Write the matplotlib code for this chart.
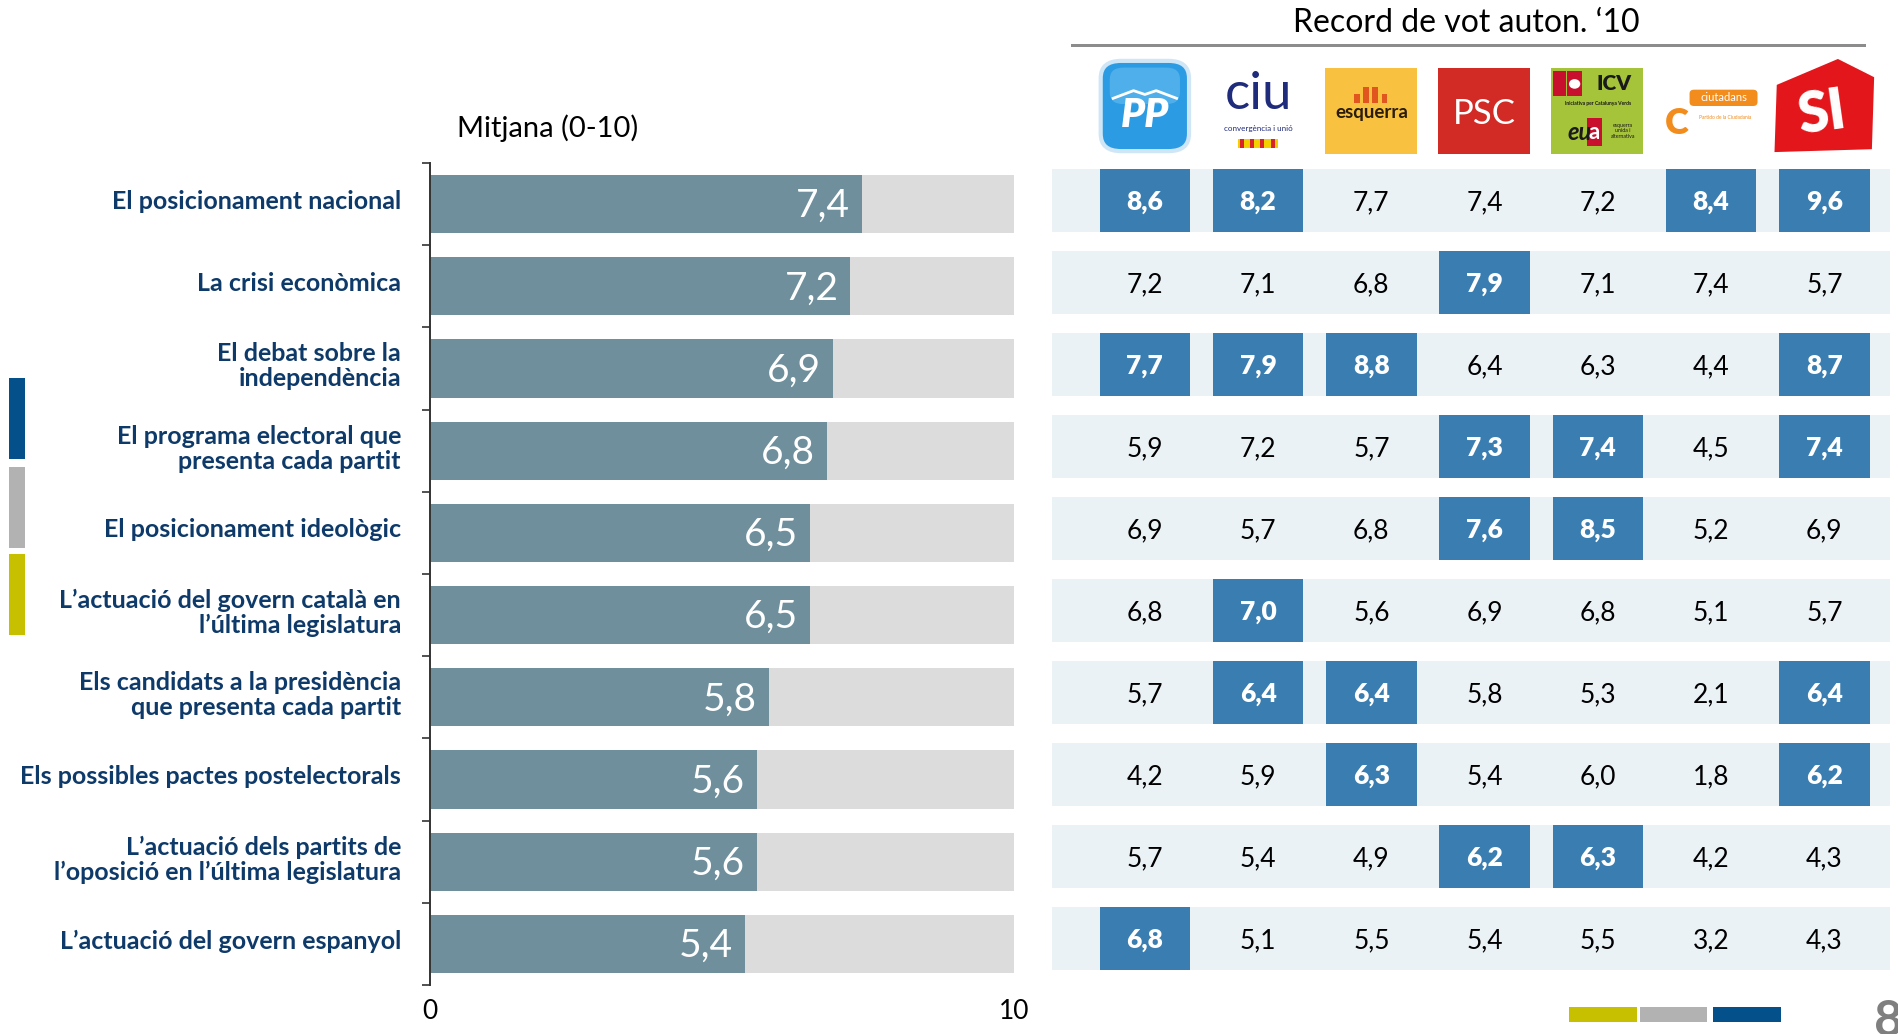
import matplotlib
matplotlib.use('Agg')
import matplotlib.pyplot as plt
from matplotlib.patches import Rectangle, FancyBboxPatch, Polygon, Circle
from matplotlib.lines import Line2D
from matplotlib.transforms import ScaledTranslation
import numpy as np

plt.rcParams['font.family'] = ['Lato', 'DejaVu Sans']

# ---------------- data ----------------
categories = [
    "El posicionament nacional",
    "La crisi econòmica",
    "El debat sobre la\nindependència",
    "El programa electoral que\npresenta cada partit",
    "El posicionament ideològic",
    "L’actuació del govern català en\nl’última legislatura",
    "Els candidats a la presidència\nque presenta cada partit",
    "Els possibles pactes postelectorals",
    "L’actuació dels partits de\nl’oposició en l’última legislatura",
    "L’actuació del govern espanyol",
]
mean_values = [7.4, 7.2, 6.9, 6.8, 6.5, 6.5, 5.8, 5.6, 5.6, 5.4]
scale_max = 10
x_ticks = [0, 10]

parties = ["PP", "CiU", "ERC", "PSC", "ICV-EUiA", "C's", "SI"]
party_values = [
    [8.6, 8.2, 7.7, 7.4, 7.2, 8.4, 9.6],
    [7.2, 7.1, 6.8, 7.9, 7.1, 7.4, 5.7],
    [7.7, 7.9, 8.8, 6.4, 6.3, 4.4, 8.7],
    [5.9, 7.2, 5.7, 7.3, 7.4, 4.5, 7.4],
    [6.9, 5.7, 6.8, 7.6, 8.5, 5.2, 6.9],
    [6.8, 7.0, 5.6, 6.9, 6.8, 5.1, 5.7],
    [5.7, 6.4, 6.4, 5.8, 5.3, 2.1, 6.4],
    [4.2, 5.9, 6.3, 5.4, 6.0, 1.8, 6.2],
    [5.7, 5.4, 4.9, 6.2, 6.3, 4.2, 4.3],
    [6.8, 5.1, 5.5, 5.4, 5.5, 3.2, 4.3],
]
highlight = [
    [1, 1, 0, 0, 0, 1, 1],
    [0, 0, 0, 1, 0, 0, 0],
    [1, 1, 1, 0, 0, 0, 1],
    [0, 0, 0, 1, 1, 0, 1],
    [0, 0, 0, 1, 1, 0, 0],
    [0, 1, 0, 0, 0, 0, 0],
    [0, 1, 1, 0, 0, 0, 1],
    [0, 0, 1, 0, 0, 0, 1],
    [0, 0, 0, 1, 1, 0, 0],
    [1, 0, 0, 0, 0, 0, 0],
]

def fmt(v):
    return f"{v:.1f}".replace('.', ',')

# ---------------- style ----------------
NAVY = '#0E3A6A'
BAR = '#6E8F9B'
BG_BAR = '#DCDCDC'
CELL = '#3A7DB0'
ROW_BG = '#EBF2F6'

W, H = 1898, 1034
fig = plt.figure(figsize=(W / 100, H / 100), dpi=100)
PT = 0.72  # points per pixel


def px_axes(x0, y0, x1, y1):
    return fig.add_axes([x0 / W, 1 - y1 / H, (x1 - x0) / W, (y1 - y0) / H])


n = len(categories)
y = np.arange(n)

# ---------------- left bar chart ----------------
ax = px_axes(430, 163, 1014, 985)
ax.barh(y, [scale_max] * n, height=0.71, color=BG_BAR, zorder=1)
ax.barh(y, mean_values, height=0.71, color=BAR, zorder=2)
ax.set_xlim(0, scale_max)
ax.set_ylim(n - 0.5, -0.5)
for s in ['top', 'right', 'bottom']:
    ax.spines[s].set_visible(False)
ax.spines['left'].set_color('#333333')
ax.spines['left'].set_linewidth(1.4)
ax.spines['left'].set_zorder(5)
ax.set_yticks(y)
ax.set_yticklabels(categories, fontsize=18, fontweight='bold', color=NAVY,
                   linespacing=1.1)
ax.tick_params(axis='y', which='major', length=0, pad=29 * PT)
shift_up = ScaledTranslation(0, 5 / 100, fig.dpi_scale_trans)
for lab in ax.get_yticklabels():
    lab.set_transform(lab.get_transform() + shift_up)
ax.set_yticks(np.arange(n + 1) - 0.5, minor=True)
ax.tick_params(axis='y', which='minor', length=8 * PT, width=1.2, color='#333333')
ax.set_xticks(x_ticks)
ax.set_xticklabels([str(t) for t in x_ticks], fontsize=19)
ax.tick_params(axis='x', length=0, pad=10)

for i, v in enumerate(mean_values):
    ax.annotate(fmt(v), xy=(v, i), xytext=(-12 * PT, -13 * PT),
                textcoords='offset points', ha='right', va='baseline',
                color='white', fontsize=28, zorder=4)

fig.text(457 / W, 1 - 137 / H, "Mitjana (0-10)", fontsize=21, va='baseline',
         ha='left', color='black')

# ---------------- right table ----------------
XL, XR = -0.82, 6.58
tx = px_axes(1052, 159.5, 1890, 979.5)
tx.set_xlim(XL, XR)
tx.set_ylim(n - 0.5, -0.5)
tx.axis('off')
row_h = 0.768
tx.barh(y, XR - XL, left=XL, height=row_h, color=ROW_BG, zorder=1)
for i in range(n):
    for j in range(len(parties)):
        v = party_values[i][j]
        hl = highlight[i][j]
        if hl:
            tx.bar(j, row_h, bottom=i - row_h / 2, width=0.80, color=CELL, zorder=2)
        tx.annotate(fmt(v), xy=(j, i), xytext=(0, -9.5 * PT),
                    textcoords='offset points', ha='center', va='baseline',
                    fontsize=19, color='white' if hl else 'black',
                    fontweight='heavy' if hl else 'normal', zorder=3)

# title and rule
fig.text(1466 / W, 1 - 32 / H, "Record de vot auton. ‘10", fontsize=23,
         ha='center', va='baseline')
fig.add_artist(Line2D([1072 / W, 1864 / W], [1 - 45 / H, 1 - 45 / H],
                      transform=fig.transFigure, color='#8C8C8C', lw=3 * PT))

# ---------------- logos (decoration) ----------------
lx = px_axes(1052, 58, 1890, 154)
lx.set_xlim(XL, XR)
lx.set_ylim(0, 1)
lx.axis('off')

# PP
c = 0
lx.add_patch(FancyBboxPatch((c - 0.37, 0.05), 0.74, 0.90,
                            boxstyle='round,pad=0.02,rounding_size=0.18',
                            facecolor='#2B9BE3', edgecolor='#CFE6F6', lw=3))
lx.add_patch(FancyBboxPatch((c - 0.31, 0.52), 0.62, 0.38,
                            boxstyle='round,pad=0.0,rounding_size=0.12',
                            facecolor='#6CC0F2', edgecolor='none', alpha=0.55))
lx.text(c, 0.40, "PP", color='white', fontsize=29, fontweight='heavy',
        style='italic', ha='center', va='center')
lx.plot([c - 0.28, c - 0.10, c, c + 0.10, c + 0.28],
        [0.58, 0.66, 0.62, 0.66, 0.58], color='white', lw=2)

# CiU
c = 1
lx.text(c, 0.62, "ciu", color='#1F2B7B', fontsize=38, ha='center', va='center')
lx.text(c, 0.27, "convergència i unió", color='#1F2B7B', fontsize=5.8,
        ha='center', va='center')
lx.add_patch(Rectangle((c - 0.18, 0.06), 0.36, 0.10, facecolor='#F4D000',
                       edgecolor='none'))
for k in range(4):
    lx.add_patch(Rectangle((c - 0.16 + k * 0.09, 0.06), 0.035, 0.10,
                           facecolor='#D8232A', edgecolor='none'))

# Esquerra
c = 2
lx.add_patch(Rectangle((c - 0.41, 0.0), 0.81, 0.90, facecolor='#F8C13F',
                       edgecolor='none'))
for dx, hh in [(-0.12, 0.10), (-0.04, 0.17), (0.04, 0.17), (0.12, 0.10)]:
    lx.add_patch(Rectangle((c + dx - 0.03, 0.53), 0.05, hh,
                           facecolor='#E0561E', edgecolor='none'))
lx.text(c, 0.43, "esquerra", color='#2A1C0C', fontsize=13.5, fontweight='bold',
        ha='center', va='center')

# PSC
c = 3
lx.add_patch(Rectangle((c - 0.41, 0.0), 0.81, 0.90, facecolor='#D22B25',
                       edgecolor='none'))
lx.text(c, 0.42, "PSC", color='white', fontsize=25, ha='center', va='center')

# ICV-EUiA
c = 4
lx.add_patch(Rectangle((c - 0.41, 0.0), 0.81, 0.90, facecolor='#A6C43A',
                       edgecolor='none'))
lx.add_patch(Rectangle((c - 0.40, 0.60), 0.12, 0.26, facecolor='#C8102E',
                       edgecolor='none'))
lx.add_patch(Rectangle((c - 0.27, 0.60), 0.13, 0.26, facecolor='#C8102E',
                       edgecolor='none'))
lx.add_patch(Circle((c - 0.205, 0.73), 0.05, facecolor='white', edgecolor='none'))
lx.text(c + 0.14, 0.73, "ICV", color='#1A1A1A', fontsize=15, fontweight='heavy',
        ha='center', va='center')
lx.text(c, 0.53, "Iniciativa per Catalunya Verds", color='#1A1A1A', fontsize=3.6,
        ha='center', va='center', fontweight='bold')
lx.add_patch(Rectangle((c - 0.10, 0.08), 0.14, 0.30, facecolor='#C8102E',
                       edgecolor='none'))
lx.text(c - 0.16, 0.22, "eu", color='#1A1A1A', fontsize=17, style='italic',
        fontweight='bold', ha='center', va='center')
lx.text(c - 0.03, 0.22, "a", color='white', fontsize=16, fontweight='bold',
        ha='center', va='center')
lx.text(c + 0.22, 0.24, "esquerra\nunida i\nalternativa", color='#1A1A1A',
        fontsize=3.8, ha='center', va='center', linespacing=1.1)

# Ciutadans
c = 5
lx.text(c - 0.30, 0.32, "C", color='#F28C1C', fontsize=26, fontweight='heavy',
        ha='center', va='center')
lx.add_patch(FancyBboxPatch((c - 0.19, 0.50), 0.60, 0.17,
                            boxstyle='round,pad=0.0,rounding_size=0.04',
                            facecolor='#F28C1C', edgecolor='none'))
lx.text(c + 0.11, 0.585, "ciutadans", color='white', fontsize=8,
        ha='center', va='center')
lx.text(c + 0.12, 0.38, "Partido de la Ciudadanía", color='#F28C1C', fontsize=3.5,
        ha='center', va='center')

# SI
c = 6
lx.add_patch(Polygon([(c - 0.44, 0.02), (c + 0.42, 0.05), (c + 0.44, 0.80),
                      (c + 0.12, 0.99), (c - 0.42, 0.72)],
                     closed=True, facecolor='#E3161B', edgecolor='none'))
lx.text(c - 0.02, 0.42, "SI", color='white', fontsize=40, fontweight='heavy',
        ha='center', va='center', rotation=8)

# ---------------- side / footer decoration ----------------
for (y0, y1), col in zip([(378, 459), (467, 548), (554, 635)],
                         ['#03508A', '#B2B2B2', '#C6C000']):
    fig.add_artist(Rectangle((9 / W, 1 - y1 / H), 16 / W, (y1 - y0) / H,
                             transform=fig.transFigure, facecolor=col,
                             edgecolor='none'))
for (x0, x1), col in zip([(1569, 1637), (1640, 1707), (1713, 1781)],
                         ['#C6C000', '#B2B2B2', '#03508A']):
    fig.add_artist(Rectangle((x0 / W, 1 - 1022 / H), (x1 - x0) / W, 15 / H,
                             transform=fig.transFigure, facecolor=col,
                             edgecolor='none'))
fig.text(1874 / W, 1 - 1036 / H, "8", color='#7F7F7F', fontsize=36,
         fontweight='bold', ha='left', va='baseline')

fig.savefig('out.png', dpi=100)
